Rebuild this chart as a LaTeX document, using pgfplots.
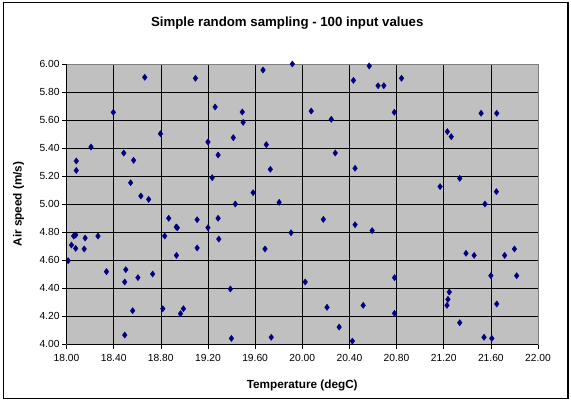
\documentclass[border=0pt]{standalone}
\usepackage{pgfplots}
\pgfplotsset{compat=1.18}
\usepackage{fontspec}
\setmainfont{Liberation Sans}
\definecolor{navy}{HTML}{000080}
\definecolor{plotgray}{HTML}{C0C0C0}
\begin{document}
\begin{tikzpicture}[x=1bp,y=1bp]
\path[use as bounding box] (0,0) rectangle (571,403);
\fill[white] (0,0) rectangle (571,403);
\draw[black, line width=1.2bp] (3.5,4.5) rectangle (568,400.5);
\begin{axis}[
  at={(66.5bp,59bp)}, anchor=south west,
  width=471.5bp, height=280bp, scale only axis,
  xmin=18, xmax=22, ymin=4, ymax=6,
  xtick={18,18.4,18.8,19.2,19.6,20,20.4,20.8,21.2,21.6,22},
  ytick={4,4.2,4.4,4.6,4.8,5,5.2,5.4,5.6,5.8,6},
  xticklabels={18.00,18.40,18.80,19.20,19.60,20.00,20.40,20.80,21.20,21.60,22.00},
  yticklabels={4.00,4.20,4.40,4.60,4.80,5.00,5.20,5.40,5.60,5.80,6.00},
  grid=major, grid style={black, line width=0.6bp},
  axis background/.style={fill=plotgray},
  axis line style={gray, line width=0.8bp},
  tick align=outside, major tick length=4.5bp,
  tick style={black, line width=0.6bp},
  xtick pos=left, ytick pos=left,
  ticklabel style={font=\fontsize{10.3}{12}\selectfont},
  xticklabel style={yshift=-2bp},
  yticklabel style={xshift=1bp},
  xlabel={Temperature (degC)},
  ylabel={Air speed (m/s)},
  title={Simple random sampling - 100 input values},
  xlabel style={font=\fontsize{11.8}{13}\selectfont\bfseries, at={(axis description cs:0.5,0)}, anchor=center, yshift=-41bp},
  ylabel style={font=\fontsize{11.8}{13}\selectfont\bfseries, at={(axis description cs:0,0.5)}, anchor=center, yshift=48bp},
  title style={font=\fontsize{13.3}{15}\selectfont\bfseries, at={(axis description cs:0.5,1)}, anchor=center, yshift=35bp, xshift=-15bp},
  clip=false,
]
\addplot[only marks, mark=diamond*, mark size=3.1bp, mark options={fill=navy, draw=navy}] table {
x y
18.083 5.307
18.083 5.240
18.208 5.407
18.397 5.655
18.486 5.364
18.569 5.312
18.544 5.152
18.631 5.057
18.697 5.033
18.664 5.905
18.797 5.502
19.094 5.898
19.261 5.693
19.200 5.443
19.286 5.350
19.236 5.188
18.014 4.595
18.042 4.707
18.061 4.771
18.078 4.779
18.078 4.683
18.158 4.757
18.150 4.679
18.267 4.771
18.339 4.517
18.503 4.531
18.494 4.443
18.606 4.474
18.731 4.500
18.561 4.238
18.494 4.064
18.833 4.771
18.867 4.898
18.931 4.836
18.940 4.830
18.933 4.633
18.817 4.252
18.967 4.217
18.992 4.252
19.108 4.888
19.108 4.686
19.200 4.831
19.286 4.898
19.292 4.750
19.667 5.957
19.916 6.000
20.568 5.986
20.434 5.883
20.643 5.845
19.491 5.657
19.499 5.583
19.415 5.474
20.076 5.664
20.246 5.605
19.695 5.424
20.280 5.364
19.729 5.248
20.448 5.255
19.583 5.081
19.432 5.000
19.804 5.012
20.179 4.890
20.448 4.852
20.593 4.810
19.905 4.795
19.684 4.679
20.025 4.443
19.390 4.393
20.210 4.262
20.517 4.276
20.313 4.121
19.399 4.040
19.737 4.048
20.425 4.021
20.692 5.845
20.842 5.898
20.781 5.655
21.517 5.648
21.650 5.648
21.231 5.517
21.264 5.481
21.336 5.183
21.169 5.124
21.647 5.088
21.550 5.000
21.389 4.648
21.458 4.633
21.717 4.633
21.800 4.679
20.783 4.474
21.600 4.488
21.819 4.488
21.247 4.371
21.236 4.319
21.228 4.276
21.650 4.286
20.783 4.219
21.336 4.152
21.542 4.048
21.608 4.040
};
\end{axis}
\draw[black, line width=0.8bp] (66.5,59) -- (66.5,339);
\draw[black, line width=0.8bp] (66.5,59) -- (538,59);
\end{tikzpicture}
\end{document}
